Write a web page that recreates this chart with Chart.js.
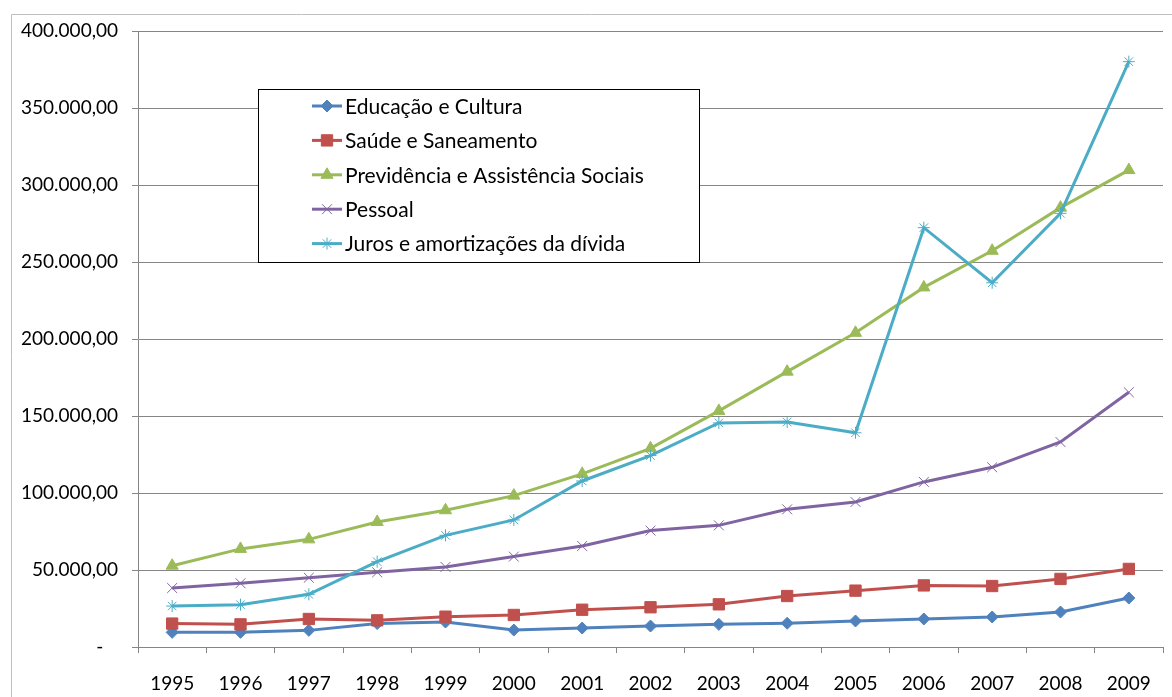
<!DOCTYPE html>
<html>
<head>
    <title>Despesas 1995-2009</title>
    <script src="https://cdn.jsdelivr.net/npm/chart.js"></script>
    <style>
        body {
            margin: 0;
            background-color: #fff;
            font-family: Lato, Arial, sans-serif;
        }

        .chart-box {
            position: relative;
            width: 1172px;
            height: 697px;
        }
    </style>
</head>
<body>
    <div class="chart-box">
        <canvas id="grafico"></canvas>
    </div>

    <script>
        // anos e valores
        var anos = ['1995', '1996', '1997', '1998', '1999', '2000', '2001', '2002',
            '2003', '2004', '2005', '2006', '2007', '2008', '2009'];

        var educacao = [9500, 9500, 10800, 15200, 16200, 11000, 12300, 13600,
            14700, 15400, 16900, 18200, 19500, 22700, 31800];
        var saude = [15200, 14700, 18200, 17300, 19700, 20800, 24200, 25800,
            27700, 33100, 36600, 40000, 39600, 44200, 50700];
        var previdencia = [52800, 63700, 69900, 81200, 88800, 98300, 112400, 129000,
            153300, 178800, 204000, 233500, 257300, 285300, 309700];
        var pessoal = [38300, 41400, 45000, 48500, 52000, 58700, 65600, 75600,
            79000, 89400, 94200, 107200, 116700, 133100, 165400];
        var juros = [26600, 27500, 34200, 55400, 72500, 82500, 107800, 124300,
            145500, 146100, 139100, 272300, 236500, 281600, 380100];

        var nomes = ['Educação e Cultura', 'Saúde e Saneamento',
            'Previdência e Assistência Sociais', 'Pessoal', 'Juros e amortizações da dívida'];

        var FONTE = 'Lato, Arial, sans-serif';

        function serie(i, dados, cor, estilo, raio, ordem) {
            var cheio = (estilo === 'rect' || estilo === 'rectRot' || estilo === 'triangle');
            return {
                label: nomes[i],
                data: dados,
                borderColor: cor,
                backgroundColor: cor,
                borderWidth: 3,
                tension: 0,
                pointStyle: estilo,
                pointRadius: raio,
                pointHoverRadius: raio,
                pointBackgroundColor: cor,
                pointBorderColor: cor,
                pointBorderWidth: 1,
                order: ordem
            };
        }

        // moldura cinza do gráfico
        var moldura = {
            id: 'moldura',
            beforeDraw: function (chart) {
                var ctx = chart.ctx;
                ctx.save();
                ctx.strokeStyle = '#BFBFBF';
                ctx.lineWidth = 1;
                ctx.beginPath();
                ctx.moveTo(11.5, 697);
                ctx.lineTo(11.5, 14.5);
                ctx.lineTo(1172, 14.5);
                ctx.stroke();
                ctx.restore();
            }
        };

        // legenda com caixa dentro da área do gráfico
        var legendaCaixa = {
            id: 'legendaCaixa',
            afterDraw: function (chart) {
                var ctx = chart.ctx;
                var x0 = 258.5, y0 = 89.5, w = 441, h = 173;
                ctx.save();
                ctx.fillStyle = '#fff';
                ctx.fillRect(x0, y0, w, h);
                ctx.strokeStyle = '#000';
                ctx.lineWidth = 1;
                ctx.strokeRect(x0, y0, w, h);
                chart.data.datasets.forEach(function (ds, i) {
                    var y = 106 + i * 34.4;
                    ctx.strokeStyle = ds.borderColor;
                    ctx.lineWidth = 3;
                    ctx.beginPath();
                    ctx.moveTo(312, y);
                    ctx.lineTo(342, y);
                    ctx.stroke();
                    ctx.fillStyle = ds.borderColor;
                    ctx.lineWidth = ds.pointBorderWidth;
                    if (Chart.helpers && Chart.helpers.drawPoint) {
                        Chart.helpers.drawPoint(ctx, {
                            pointStyle: ds.pointStyle,
                            radius: ds.pointRadius,
                            rotation: 0,
                            borderWidth: ds.pointBorderWidth
                        }, 327, y);
                    }
                    ctx.fillStyle = '#000';
                    ctx.font = '21px ' + FONTE;
                    ctx.textBaseline = 'middle';
                    ctx.textAlign = 'left';
                    ctx.fillText(ds.label, 345, y + 1);
                });
                ctx.restore();
            }
        };

        var ctx = document.getElementById('grafico').getContext('2d');
        var grafico = new Chart(ctx, {
            type: 'line',
            data: {
                labels: anos,
                datasets: [
                    serie(0, educacao, '#4F81BD', 'rectRot', 6, 4),
                    serie(1, saude, '#C0504D', 'rect', 8, 3),
                    serie(2, previdencia, '#9BBB59', 'triangle', 7, 2),
                    serie(3, pessoal, '#8064A2', 'crossRot', 7, 1),
                    serie(4, juros, '#4BACC6', 'star', 6, 0)
                ]
            },
            options: {
                responsive: true,
                maintainAspectRatio: false,
                animation: false,
                devicePixelRatio: 1,
                layout: {
                    padding: { left: 0, top: 31, right: 9, bottom: 0 }
                },
                plugins: {
                    legend: { display: false },
                    tooltip: { enabled: false }
                },
                scales: {
                    x: {
                        offset: true,
                        grid: {
                            offset: true,
                            drawOnChartArea: false,
                            drawTicks: true,
                            tickLength: 6,
                            color: '#868686'
                        },
                        border: { display: true, color: '#868686' },
                        ticks: {
                            color: '#000',
                            font: { family: FONTE, size: 19 },
                            padding: 19,
                            maxRotation: 0,
                            autoSkip: false
                        },
                        afterFit: function (s) { s.height = 50; }
                    },
                    y: {
                        min: 0,
                        max: 400000,
                        grid: {
                            color: '#868686',
                            tickLength: 6
                        },
                        border: { display: true, color: '#868686' },
                        ticks: {
                            stepSize: 50000,
                            color: '#000',
                            font: { family: FONTE, size: 19 },
                            padding: 14,
                            callback: function (v) {
                                if (v === 0) return '-   ';
                                return v.toLocaleString('pt-BR', { minimumFractionDigits: 2, maximumFractionDigits: 2 });
                            }
                        },
                        afterFit: function (s) { s.width = 138; }
                    }
                }
            },
            plugins: [moldura, legendaCaixa]
        });
    </script>
</body>
</html>
